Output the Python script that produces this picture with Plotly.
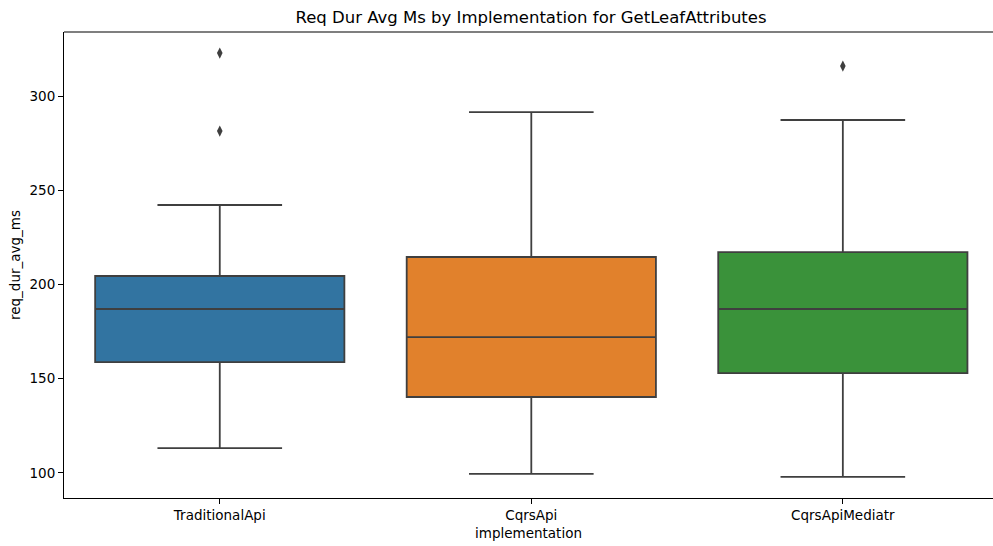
import plotly.graph_objects as go

# Summary statistics per implementation (ms)
implementations = ["TraditionalApi", "CqrsApi", "CqrsApiMediatr"]
lower_whisker = [113.2, 99.5, 97.9]
q1_values = [158.8, 140.3, 153.0]
median_values = [187.0, 172.1, 187.0]
q3_values = [204.5, 214.6, 217.2]
upper_whisker = [242.2, 291.5, 287.3]
outlier_impl = ["TraditionalApi", "TraditionalApi", "CqrsApiMediatr"]
outlier_values = [322.8, 281.4, 315.9]

box_colors = ["#3274a1", "#e1812c", "#3a923a"]
edge_color = "#3f3f3f"
font_family = "DejaVu Sans, sans-serif"

fig = go.Figure()
for i, name in enumerate(implementations):
    fig.add_trace(go.Box(
        x=[name],
        q1=[q1_values[i]],
        median=[median_values[i]],
        q3=[q3_values[i]],
        lowerfence=[lower_whisker[i]],
        upperfence=[upper_whisker[i]],
        fillcolor=box_colors[i],
        line=dict(color=edge_color, width=1.8),
        width=0.8,
        whiskerwidth=0.5,
        boxpoints=False,
        showlegend=False,
        hoverinfo="y",
    ))

fig.add_trace(go.Scatter(
    x=outlier_impl,
    y=outlier_values,
    mode="markers",
    marker=dict(symbol="diamond-tall", size=8, color=edge_color,
                line=dict(width=0)),
    showlegend=False,
))

# top spine (the right spine falls outside the canvas)
fig.add_shape(type="line", xref="x domain", yref="y domain",
              x0=0, x1=1, y0=1, y1=1,
              line=dict(color="black", width=1.1))

fig.update_layout(
    width=993,
    height=546,
    margin=dict(l=64, r=0, t=32, b=48),
    paper_bgcolor="white",
    plot_bgcolor="white",
    boxmode="overlay",
    font=dict(family=font_family, size=13.5, color="black"),
    title=dict(
        text="Req Dur Avg Ms by Implementation for GetLeafAttributes",
        x=531 / 993, xanchor="center",
        y=1 - 17 / 546, yanchor="middle",
        font=dict(size=16.5, family=font_family, color="black"),
    ),
    xaxis=dict(
        title=dict(text="implementation", standoff=6,
                   font=dict(size=13.5, family=font_family)),
        categoryorder="array",
        categoryarray=implementations,
        range=[-0.5, 2.482],
        showgrid=False,
        zeroline=False,
        showline=True, linecolor="black", linewidth=1.1, mirror=False,
        ticks="outside", ticklen=5, tickwidth=1.1, tickcolor="black",
    ),
    yaxis=dict(
        title=dict(text="req_dur_avg_ms", standoff=5,
                   font=dict(size=13.5, family=font_family)),
        range=[86.7, 334.0],
        tickvals=[100, 150, 200, 250, 300],
        showgrid=False,
        zeroline=False,
        showline=True, linecolor="black", linewidth=1.1, mirror=False,
        ticks="outside", ticklen=5, tickwidth=1.1, tickcolor="black",
    ),
)

fig.write_html("out.html")
